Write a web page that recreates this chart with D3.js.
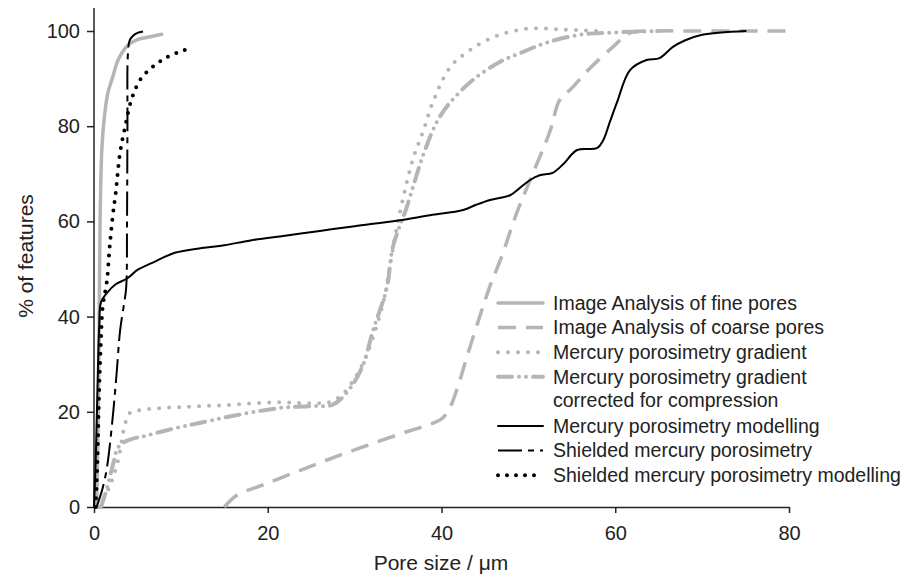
<!DOCTYPE html>
<html>
<head>
<meta charset="utf-8">
<script src="https://cdn.jsdelivr.net/npm/d3@7"></script>
<style>
  body { margin: 0; background: #fff; }
  svg { font-family: "Liberation Sans", Arial, sans-serif; }
</style>
</head>
<body>
<svg width="904" height="579"></svg>
<script>
const svg = d3.select("svg");

// axis ticks
const xTicks = [0, 20, 40, 60, 80];
const yTicks = [0, 20, 40, 60, 80, 100];

// series values: [pore size (um), % of features]
const finePores = [[0.3,0],[0.5,20],[0.6,40],[0.7,60],[0.9,75],[1.2,82],[1.6,87],[2.1,90],[2.8,94],[3.9,97],[5,98.2],[6.5,98.8],[7.8,99.3]];
const coarsePores = [[15,0],[16.5,2.5],[20,5],[25,8.6],[30,12],[35,15.2],[38,17],[40,18.5],[41,21],[42,26],[43,32],[44.4,40],[45.5,46],[47,53],[48.5,61],[50.2,68.7],[52.5,79],[53.6,85.5],[55,88],[57,92],[59.7,96.6],[61.7,99.6],[65,100],[70,100],[80,100]];
const hgGradient = [[0.5,0],[1.6,3.5],[2.2,6.3],[2.8,10],[3.2,14],[3.6,17.6],[4.1,19.7],[6,20.5],[10,21],[15,21.4],[21,22],[25,21.8],[27,22],[28.5,23.5],[30,27],[31.4,32],[33.3,43],[34,50],[35,60],[36.7,73],[37.9,79],[39,85],[41,92.4],[43.3,96],[46.4,99],[50,100.5],[54,100.3],[58,100]];
const hgCorrected = [[0.8,0],[1.5,4],[2.2,9],[2.8,12.6],[3.9,14],[6,15],[9.9,16.8],[12,17.6],[15.6,19],[21.4,20.8],[25,21.2],[27.5,21.5],[29.5,25],[31,30],[32.1,37],[33.7,46],[34.4,54.6],[36,63],[37.9,74],[39.5,81],[41,85],[43.6,89.7],[46.7,93.5],[49.4,95.6],[52,97.5],[55.9,99.2],[60,99.7],[65,100]];
const hgModelling = [[0,0],[0.2,10],[0.4,25],[0.6,38],[0.8,43],[1.5,45],[2.5,46.8],[3.8,48],[5,49.8],[6.7,51.3],[9.3,53.4],[12.4,54.4],[15,55],[18,56],[22,57],[26,58],[30,59],[35,60.2],[38.7,61.3],[42.5,62.4],[44,63.5],[45.6,64.5],[47.9,65.5],[49,67],[50.2,68.7],[51.3,69.7],[52.8,70.2],[54,72],[55.6,75],[57.9,75.4],[58.6,77],[59.4,81],[60.2,85],[61.7,91.8],[63.6,93.9],[65.1,94.3],[66.6,96.6],[68,98],[70,99.2],[75,100]];
const shielded = [[0.3,0],[1,4],[1.5,8.4],[2.2,19.7],[2.6,28],[3,37],[3.4,42],[3.7,46],[3.8,60],[3.85,80],[3.9,95],[4.1,98],[4.5,99],[5,99.6],[6,100]];
const shieldedModelling = [[0.2,0],[0.4,10],[0.6,25],[0.8,35],[1.0,42],[1.5,47.7],[1.8,54.6],[2.2,61.8],[2.5,66],[3.0,74.4],[3.6,80],[4.3,85.5],[5.3,89.7],[6.7,92.4],[8.4,94.5],[10.7,96.2]];

const seriesNames = [
  ["Image Analysis of fine pores"],
  ["Image Analysis of coarse pores"],
  ["Mercury porosimetry gradient"],
  ["Mercury porosimetry gradient", "corrected for compression"],
  ["Mercury porosimetry modelling"],
  ["Shielded mercury porosimetry"],
  ["Shielded mercury porosimetry modelling"]
];
const seriesData = [finePores, coarsePores, hgGradient, hgCorrected, hgModelling, shielded, shieldedModelling];

const grey = "#b5b5b5";
const styles = [
  { color: grey, width: 3.5, dash: null, cap: "round" },
  { color: grey, width: 3.5, dash: "18,10", cap: "butt" },
  { color: grey, width: 4, dash: "0,10", cap: "round" },
  { color: grey, width: 4, dash: "14,7,0,7,0,7", cap: "round" },
  { color: "#000", width: 2, dash: null, cap: "round" },
  { color: "#000", width: 2, dash: "24,6,6,6", cap: "butt" },
  { color: "#000", width: 4, dash: "0,9", cap: "round" }
];

const x = d3.scaleLinear().domain([0, 80]).range([94, 789]);
const y = d3.scaleLinear().domain([0, 100]).range([507, 31]);

// axes
const xAxis = svg.append("g")
  .attr("transform", `translate(0,${y(0)})`)
  .call(d3.axisBottom(x).tickValues(xTicks).tickSize(6).tickSizeOuter(0).tickPadding(13));
const yAxis = svg.append("g")
  .attr("transform", `translate(${x(0)},0)`)
  .call(d3.axisLeft(y).tickValues(yTicks).tickSize(7).tickSizeOuter(0).tickPadding(7));

// y axis line runs a bit above 100
yAxis.select(".domain").attr("d", `M0,${y(0)}V8`);

[xAxis, yAxis].forEach(a => {
  a.selectAll("path, line").attr("stroke", "#222").attr("stroke-width", 1.5);
  a.selectAll("text").attr("font-size", 20).attr("fill", "#222")
    .attr("font-family", "Liberation Sans, Arial, sans-serif");
});

svg.append("text")
  .attr("x", 441).attr("y", 570)
  .attr("text-anchor", "middle")
  .attr("font-size", 21).attr("fill", "#222")
  .text("Pore size / μm");

svg.append("text")
  .attr("transform", "translate(33,256) rotate(-90)")
  .attr("text-anchor", "middle")
  .attr("font-size", 21).attr("fill", "#222")
  .text("% of features");

// curves
const line = d3.line()
  .x(d => x(d[0]))
  .y(d => y(d[1]))
  .curve(d3.curveCatmullRom.alpha(0.5));

const drawOrder = [3, 2, 1, 0, 4, 5, 6];
drawOrder.forEach(i => {
  const s = styles[i];
  svg.append("path")
    .datum(seriesData[i])
    .attr("d", line)
    .attr("fill", "none")
    .attr("stroke", s.color)
    .attr("stroke-width", s.width)
    .attr("stroke-dasharray", s.dash)
    .attr("stroke-linecap", s.cap)
    .attr("stroke-linejoin", "round");
});

// legend
const legend = svg.append("g");
let rowY = 303;
seriesNames.forEach((lines, i) => {
  const s = styles[i];
  legend.append("line")
    .attr("x1", 498).attr("x2", 543)
    .attr("y1", rowY).attr("y2", rowY)
    .attr("stroke", s.color)
    .attr("stroke-width", s.width)
    .attr("stroke-dasharray", s.dash)
    .attr("stroke-linecap", s.cap);
  lines.forEach((t, k) => {
    legend.append("text")
      .attr("x", 553).attr("y", rowY + k * 23.5)
      .attr("dy", "0.35em")
      .attr("font-size", 19.5).attr("fill", "#222")
      .text(t);
  });
  rowY += 24.6 * lines.length;
});
</script>
</body>
</html>
